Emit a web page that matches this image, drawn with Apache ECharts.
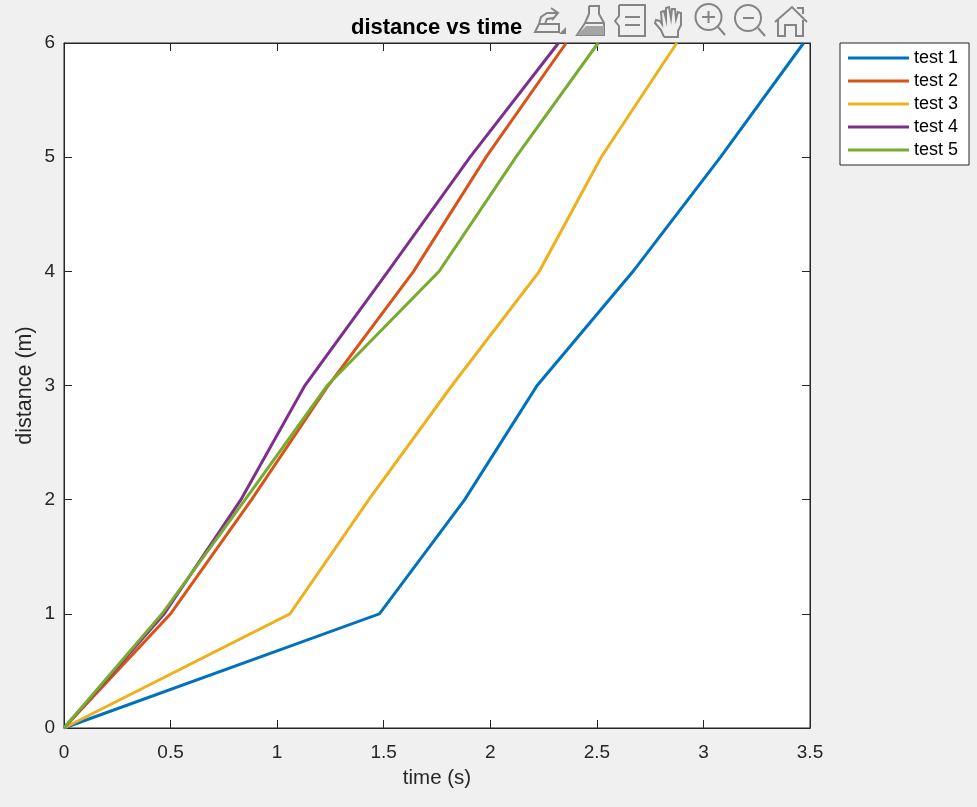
<!DOCTYPE html>
<html><head><meta charset="utf-8">
<style>html,body{margin:0;padding:0;background:#f0f0f0}#c{width:977px;height:807px}</style>
<script src="https://cdn.jsdelivr.net/npm/echarts@6/dist/echarts.min.js"></script>
</head><body><div id="c"></div>
<script>
const seriesNames = ['test 1','test 2','test 3','test 4','test 5'];
const seriesColors = ['#0072BD','#D95319','#EDB120','#7E2F8E','#77AC30'];
const distance = [0,1,2,3,4,5,6];
const test1 = [0,1.48,1.88,2.22,2.67,3.08,3.47];
const test2 = [0,0.50,0.88,1.24,1.64,1.98,2.356];
const test3 = [0,1.06,1.43,1.82,2.23,2.52,2.875];
const test4 = [0,0.47,0.83,1.13,1.52,1.905,2.32];
const test5 = [0,0.46,0.85,1.235,1.76,2.12,2.506];
const times = [test1,test2,test3,test4,test5];
const font = 'Liberation Sans';
const ink = '#262626';
const iconGray = '#858585';

const stroke = {stroke:iconGray,lineWidth:2,fill:'none'};
const poly = pts => ({type:'polyline',silent:true,shape:{points:pts},style:stroke});
const fillPoly = (pts,fill) => ({type:'polygon',silent:true,shape:{points:pts},style:{fill:fill,stroke:'none'}});
const ring = (cx,cy,r) => ({type:'circle',silent:true,shape:{cx:cx,cy:cy,r:r},style:stroke});
const toolbar = [
  // export
  poly([[539,24],[535,32],[559,32],[559,24],[539,24]]),
  poly([[539,24],[541,17],[547,13],[558,13]]),
  poly([[551,8],[558,13],[552,20]]),
  poly([[545,24],[547,19],[553,18]]),
  fillPoly([[559,34],[566,34],[566,27]],iconGray),
  // brush
  poly([[589,6],[599,6],[599,14],[604,23],[604,35],[577,35],[585,23],[589,14],[589,6]]),
  poly([[585,23],[604,23]]),
  fillPoly([[577,35],[586,26],[604,26],[604,35]],'#a5a5a5'),
  // legend
  poly([[619,5],[645,5],[645,36],[619,36],[619,26],[615,21],[619,16],[619,5]]),
  poly([[625,17],[640,17]]),
  poly([[625,25],[640,25]]),
  // hand
  poly([[664,37],[661,30],[655,23],[656,20],[660,21],[662,24],[661,12],[664,11],[666,19],[666,8],[669,7],[671,18],[672,9],[675,9],[676,19],[678,12],[681,13],[681,25],[678,31],[678,37],[664,37]]),
  // zoom in
  ring(708.5,17,13),
  poly([[718,27],[725,35]]),
  poly([[702,17],[715,17]]),
  poly([[708.5,11],[708.5,23]]),
  // zoom out
  ring(748,18,13),
  poly([[758,28],[765,36]]),
  poly([[743,18],[754,18]]),
  // home
  poly([[775,22],[792,7],[807,22]]),
  poly([[778,20],[778,36],[785,36],[785,25],[796,25],[796,36],[803,36],[803,20]]),
  poly([[797,8],[803,8],[803,14]])
];

const chart = echarts.init(document.getElementById('c'), null, {renderer:'canvas'});
const boxAxis = {
  type:'value',
  axisLine:{show:true,onZero:false,lineStyle:{color:ink}},
  axisTick:{show:true,inside:true,length:8,lineStyle:{color:ink}},
  axisLabel:{show:false},
  splitLine:{show:false}
};
chart.setOption({
  backgroundColor:'#f0f0f0',
  animation:false,
  title:{text:'distance vs time',left:351,top:17,padding:0,textStyle:{fontFamily:font,fontSize:22,fontWeight:'bold',color:'#000'}},
  graphic:{elements:toolbar},
  grid:{left:64,top:43,width:746,height:685,backgroundColor:'#fff',show:true,borderColor:ink,borderWidth:1},
  legend:{
    orient:'vertical',left:840,top:43,
    backgroundColor:'#fff',borderColor:ink,borderWidth:1,borderRadius:0,padding:[6,11,6,8],
    itemWidth:61,itemHeight:3,itemGap:5,
    textStyle:{fontFamily:font,fontSize:18,color:'#000'},
    data:seriesNames.map(n=>({name:n,icon:'rect'}))
  },
  xAxis:[
    {type:'value',min:0,max:3.5,interval:0.5,name:'time (s)',nameLocation:'middle',nameGap:40,nameMoveOverlap:false,
      nameTextStyle:{fontFamily:font,fontSize:20.5,color:ink},
      axisLine:{show:true,onZero:false,lineStyle:{color:ink}},
      axisTick:{show:true,inside:true,length:8,lineStyle:{color:ink}},
      axisLabel:{fontFamily:font,fontSize:19,color:ink,margin:15,showMinLabel:true,showMaxLabel:true},
      splitLine:{show:false}},
    Object.assign({},boxAxis,{position:'top',min:0,max:3.5,interval:0.5})
  ],
  yAxis:[
    {type:'value',min:0,max:6,interval:1,name:'distance (m)',nameLocation:'middle',nameGap:28,nameMoveOverlap:false,
      nameTextStyle:{fontFamily:font,fontSize:21.5,color:ink},
      axisLine:{show:true,onZero:false,lineStyle:{color:ink}},
      axisTick:{show:true,inside:true,length:8,lineStyle:{color:ink}},
      axisLabel:{fontFamily:font,fontSize:19,color:ink,margin:9,padding:[4,0,0,0]},
      splitLine:{show:false}},
    Object.assign({},boxAxis,{position:'right',min:0,max:6,interval:1})
  ],
  series:seriesNames.map((n,i)=>({
    name:n,type:'line',showSymbol:false,symbol:'none',clip:true,
    xAxisIndex:0,yAxisIndex:0,
    lineStyle:{width:3,color:seriesColors[i],join:'miter'},
    itemStyle:{color:seriesColors[i]},
    data:distance.map((d,j)=>[times[i][j],d])
  }))
});
</script></body></html>
